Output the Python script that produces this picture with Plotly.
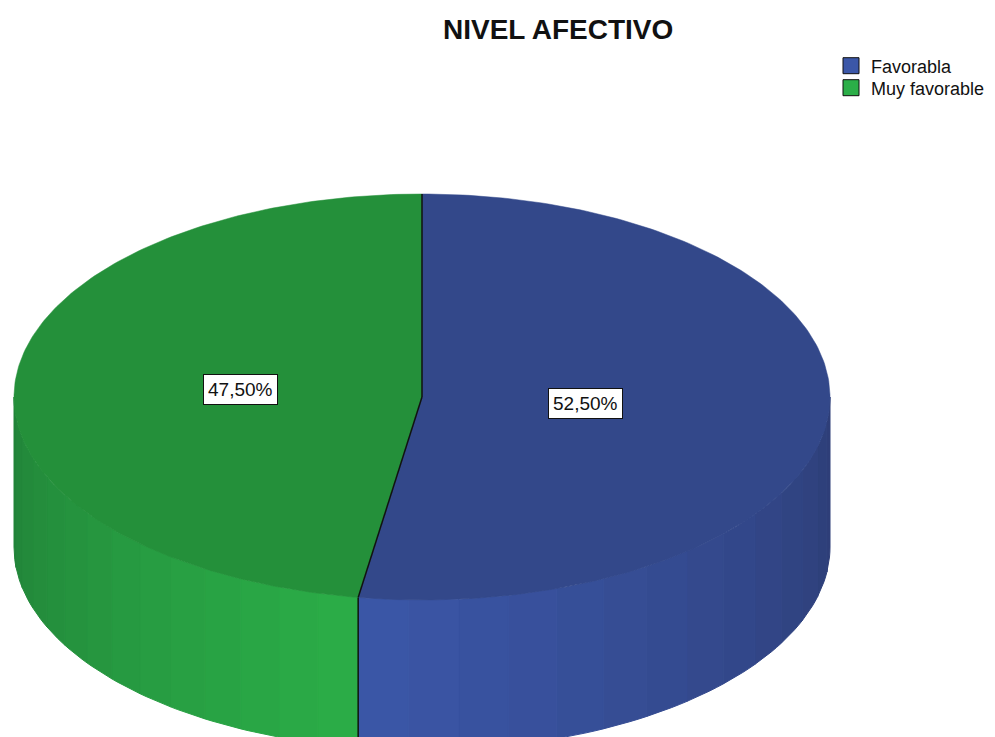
import numpy as np
import plotly.graph_objects as go

# ---- data ----
categories = ["Favorabla", "Muy favorable"]
values = [52.5, 47.5]
top_colors = ["#33488A", "#24903A"]
side_light = ["#3B57A8", "#2BAE48"]
side_dark = ["#2D3D76", "#218238"]
legend_colors = ["#3B57A8", "#2BAE48"]
title_text = "NIVEL AFECTIVO"

# ---- geometry (page pixel space; page body has an 8px offset) ----
W, H = 995, 737
OFF = 8
cx, cy = 422, 397
rx, ry = 408, 203
depth = 150


def pt(theta_deg, dy=0.0):
    t = np.radians(theta_deg)
    return cx + rx * np.sin(t), cy - ry * np.cos(t) + dy


def mix(c1, c2, f):
    a = [int(c1[i:i + 2], 16) for i in (1, 3, 5)]
    b = [int(c2[i:i + 2], 16) for i in (1, 3, 5)]
    return "#%02x%02x%02x" % tuple(int(round(a[k] + (b[k] - a[k]) * f)) for k in range(3))


fig = go.Figure()

total = sum(values)
starts, ends = [], []
acc = 0.0
for v in values:
    starts.append(acc / total * 360)
    acc += v
    ends.append(acc / total * 360)

split = ends[0]

# ---- sides (front half visible: 90..270) ----
for i in range(len(values)):
    a0 = max(starts[i], 90)
    a1 = min(ends[i], 270)
    if a1 <= a0:
        continue
    nseg = 14
    edges = np.linspace(a0, a1, nseg + 1)
    for s in range(nseg):
        e0, e1 = edges[s], edges[s + 1]
        mid = (e0 + e1) / 2
        f = abs(mid - split) / max(abs(a0 - split), abs(a1 - split))
        col = mix(side_light[i], side_dark[i], f)
        th = np.linspace(e0, e1, 6)
        xs_top, ys_top = pt(th)
        xs_bot, ys_bot = pt(th[::-1], depth)
        xs = np.concatenate([xs_top, xs_bot, xs_top[:1]])
        ys = np.concatenate([ys_top, ys_bot, ys_top[:1]])
        fig.add_trace(go.Scatter(x=xs, y=ys, mode="lines", fill="toself",
                                 fillcolor=col, line=dict(color=col, width=1),
                                 hoverinfo="skip", showlegend=False))

bx, by = pt(split)
fig.add_trace(go.Scatter(x=[bx, bx], y=[by, by + depth], mode="lines",
                         line=dict(color="#111111", width=1.5),
                         hoverinfo="skip", showlegend=False))

# ---- top face ----
for i in range(len(values)):
    th = np.linspace(starts[i], ends[i], 200)
    xs, ys = pt(th)
    xs = np.concatenate([[cx], xs, [cx]])
    ys = np.concatenate([[cy], ys, [cy]])
    fig.add_trace(go.Scatter(x=xs, y=ys, mode="lines", fill="toself",
                             fillcolor=top_colors[i], line=dict(color=top_colors[i], width=0.5),
                             hoverinfo="skip", showlegend=False))

for a in starts:
    ex, ey = pt(a)
    fig.add_trace(go.Scatter(x=[cx, ex], y=[cy, ey], mode="lines",
                             line=dict(color="#111111", width=1.5),
                             hoverinfo="skip", showlegend=False))

# ---- legend entries (one legend per row for tight spacing) ----
legend_names = ["legend", "legend2"]
for i, c in enumerate(categories):
    fig.add_trace(go.Scatter(x=[None], y=[None], mode="markers", name=c,
                             legend=legend_names[i],
                             marker=dict(symbol="square", size=16, color=legend_colors[i],
                                         line=dict(color="#111111", width=1))))

# ---- value labels at slice centroids ----
for i, v in enumerate(values):
    mid = (starts[i] + ends[i]) / 2
    half = np.radians((ends[i] - starts[i]) / 2)
    frac = 2 * np.sin(half) / (3 * half)
    t = np.radians(mid)
    lx = cx + frac * rx * np.sin(t)
    ly = cy - frac * ry * np.cos(t)
    fig.add_annotation(x=lx, y=ly, text=f"{v:.2f}".replace(".", ",") + "%",
                       showarrow=False, bgcolor="white", bordercolor="#111111",
                       borderwidth=1, borderpad=4,
                       font=dict(family="Liberation Sans, Arial", size=19, color="#111111"))

fig.add_annotation(x=558, y=29, text="<b>" + title_text + "</b>", showarrow=False,
                   font=dict(family="Liberation Sans, Arial", size=28, color="#111111"))

leg_font = dict(family="Liberation Sans, Arial", size=18, color="#111111")
row_y = [66, 88]
leg_x = (831 - OFF) / W
fig.update_layout(
    width=W, height=H,
    margin=dict(l=0, r=0, t=0, b=0),
    paper_bgcolor="white", plot_bgcolor="white",
    xaxis=dict(range=[OFF, W + OFF], visible=False, fixedrange=True),
    yaxis=dict(range=[H + OFF, OFF], visible=False, fixedrange=True),
    legend=dict(x=leg_x, y=1 - (row_y[0] - OFF) / H, xanchor="left", yanchor="middle",
                font=leg_font, itemwidth=30, bgcolor="rgba(0,0,0,0)"),
    legend2=dict(x=leg_x, y=1 - (row_y[1] - OFF) / H, xanchor="left", yanchor="middle",
                 font=leg_font, itemwidth=30, bgcolor="rgba(0,0,0,0)"),
)

fig.write_html("out.html")
